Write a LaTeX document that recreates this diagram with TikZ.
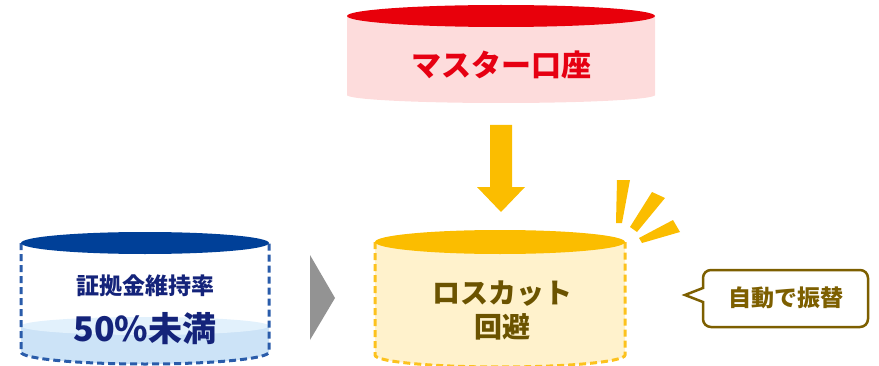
\documentclass[tikz,border=0pt]{standalone}
\usepackage{fontspec}
\setmainfont{Noto Sans CJK JP}[BoldFont={Noto Sans CJK JP Black}]
\definecolor{navy}{HTML}{14237A}
\definecolor{bluetop}{HTML}{004098}
\definecolor{bluedash}{HTML}{2A5CAA}
\definecolor{waterlow}{HTML}{CCE3F7}
\definecolor{waterhigh}{HTML}{E2F1FC}
\definecolor{redtop}{HTML}{E8000B}
\definecolor{pinkbody}{HTML}{FDDCDC}
\definecolor{redtext}{HTML}{E60012}
\definecolor{goldtop}{HTML}{FBBD00}
\definecolor{goldbody}{HTML}{FFF2CC}
\definecolor{golddash}{HTML}{FCC21E}
\definecolor{browntext}{HTML}{6B5300}
\definecolor{bubbleline}{HTML}{7D5F00}
\begin{document}
\begin{tikzpicture}[x=1pt, y=1pt, font=\bfseries, every node/.style={align=center, inner sep=0pt}]
  \useasboundingbox (0,0) rectangle (879,365);
  % left cylinder
  \fill[waterlow] (21,39) -- (21,13) arc[start angle=180, end angle=360, x radius=124, y radius=12] -- (269,39) -- cycle;
  \fill[waterhigh] (145,39) ellipse[x radius=124, y radius=9];
  \draw[bluedash, line width=3pt, dash pattern=on 7pt off 4pt] (21,122) -- (21,13) arc[start angle=180, end angle=360, x radius=124, y radius=12] -- (269,122);
  \fill[bluetop] (145,122) ellipse[x radius=124, y radius=11];
  \node[text=navy, font=\bfseries\fontsize{23}{23}\selectfont] (rate) at (145,79) {証拠金維持率};
  \node[text=navy, font=\bfseries\fontsize{34}{34}\selectfont] (under) at (145,36) {50\%未満};
  % gray arrow
  \fill[gray!85] (310,110) -- (335,67) -- (310,25) -- cycle;
  % master account
  \fill[pinkbody] (347,349) -- (347,270) arc[start angle=180, end angle=360, x radius=154, y radius=8] -- (655,349) -- cycle;
  \fill[redtop] (501,349) ellipse[x radius=154, y radius=11];
  \node[text=redtext, font=\bfseries\fontsize{30}{30}\selectfont] (master) at (501,300) {マスター口座};
  % down arrow
  \fill[goldtop] (490,240) -- (512,240) -- (512,178) -- (525,178) -- (501,153) -- (477,178) -- (490,178) -- cycle;
  % losscut cylinder
  \fill[goldbody] (375,123) -- (375,10) arc[start angle=180, end angle=360, x radius=125, y radius=12] -- (625,123) -- cycle;
  \draw[golddash, line width=3pt, dash pattern=on 7pt off 4pt] (375,123) -- (375,10) arc[start angle=180, end angle=360, x radius=125, y radius=12] -- (625,123);
  \fill[goldtop] (500,123) ellipse[x radius=125, y radius=12];
  \node[text=browntext, font=\bfseries\fontsize{28}{34}\selectfont] (losscut) at (502,55) {ロスカット\\回避};
  % flash
  \fill[goldtop] (617,185) -- (630,185) -- (622,142) -- (616,142) -- cycle;
  \fill[goldtop] (652,173) -- (665,167) -- (637,133) -- (630,138) -- cycle;
  \fill[goldtop] (673,145) -- (680,133) -- (642,122) -- (639,127) -- cycle;
  % bubble
  \draw[bubbleline, line width=2.5pt, fill=white, rounded corners=8pt] (703,63) -- (703,38) -- (868,38) -- (868,95) -- (703,95) [sharp corners] -- (703,77) -- (685,70) -- cycle;
  \node[text=bubbleline, font=\bfseries\fontsize{23}{23}\selectfont] (auto) at (786,67) {自動で振替};
\end{tikzpicture}
\end{document}
